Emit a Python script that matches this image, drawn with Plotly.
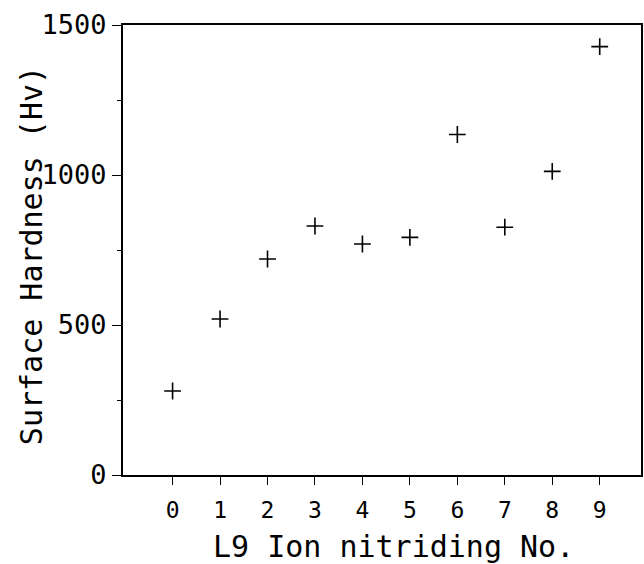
import plotly.graph_objects as go

run_no = [0, 1, 2, 3, 4, 5, 6, 7, 8, 9]
hardness = [280, 520, 720, 830, 770, 792, 1135, 826, 1012, 1428]
x_tick_labels = ["0", "1", "2", "3", "4", "5", "6", "7", "8", "9"]
y_tick_vals = [0, 500, 1000, 1500]
x_title = "L9 Ion nitriding No."
y_title = "Surface Hardness (Hv)"

fig = go.Figure()
fig.add_trace(go.Scatter(
    x=run_no, y=hardness, mode="markers",
    marker=dict(symbol="cross-thin", size=12, color="black",
                line=dict(color="black", width=1.6)),
    showlegend=False,
))

font = "DejaVu Sans Mono"
fig.update_layout(
    width=644, height=564,
    margin=dict(l=123, r=3, t=25, b=89),
    paper_bgcolor="white", plot_bgcolor="white",
    font=dict(family=font, color="black"),
)
fig.update_xaxes(
    range=[-1.045, 9.87],
    tickvals=run_no, ticktext=x_tick_labels,
    ticks="outside", ticklen=8, tickwidth=1.3, tickcolor="black",
    tickfont=dict(size=23, family=font),
    ticklabelstandoff=5,
    showline=True, linecolor="black", linewidth=2, mirror=True,
    showgrid=False, zeroline=False, automargin=False,
)
fig.update_yaxes(
    range=[0, 1500],
    tickvals=y_tick_vals,
    ticks="outside", ticklen=9, tickwidth=1.3, tickcolor="black",
    tickfont=dict(size=27, family=font),
    minor=dict(dtick=250, ticks="outside", ticklen=4, tickcolor="black", tickwidth=1.2),
    showline=True, linecolor="black", linewidth=2, mirror=True,
    showgrid=False, zeroline=False, automargin=False,
)
fig.add_annotation(
    text=x_title, xref="paper", yref="paper", x=0.522, y=-0.158,
    xanchor="center", yanchor="middle", showarrow=False,
    font=dict(size=30, family=font, color="black"),
)
fig.add_annotation(
    text=y_title, xref="paper", yref="paper", x=(31 - 123) / 519, y=(475 - 256) / 450,
    xanchor="center", yanchor="middle", textangle=-90, showarrow=False,
    font=dict(size=30, family=font, color="black"),
)

fig.write_html(
    "out.html",
    config={"displayModeBar": False},
    post_script="document.body.style.margin='0';document.body.style.overflow='hidden';",
)
